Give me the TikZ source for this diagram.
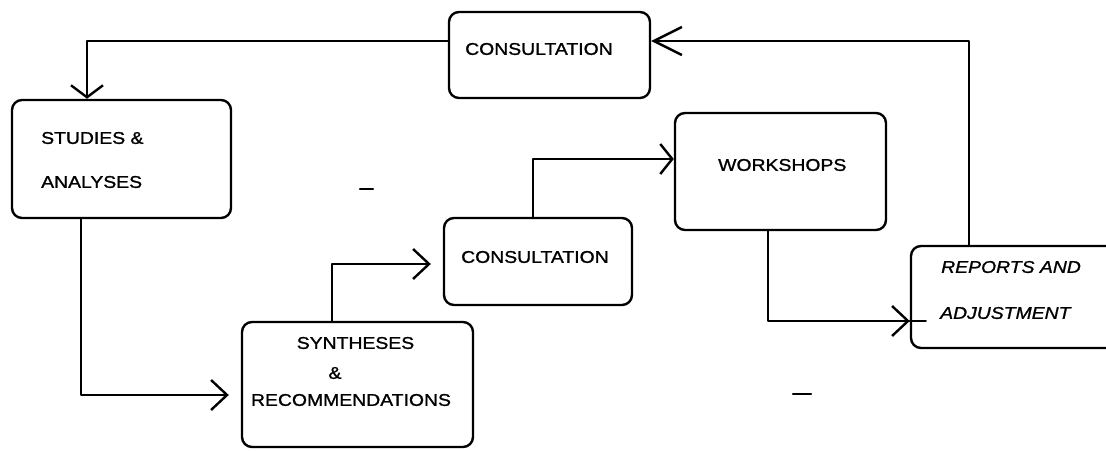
\documentclass[tikz,border=0pt]{standalone}
\usepackage{fontspec}
\setmainfont{Liberation Sans}[FakeStretch=1.14,FakeBold=1.2]
\usetikzlibrary{arrows.meta}
\begin{document}
\begin{tikzpicture}[x=1pt,y=-1pt,
  line width=2.4pt,line cap=round,line join=round,
  stage/.style={draw,rounded corners=10pt,inner sep=0pt},
  lbl/.style={inner sep=0pt,font=\fontsize{17}{20}\selectfont},
  lblw/.style={lbl,anchor=west},
  flow/.style={-{Straight Barb[length=16pt,width=30pt]}},
  tick/.style={line width=2.4pt}]
\useasboundingbox (0,0) rectangle (1106,450);

% process stages
\node[stage,minimum width=201pt,minimum height=86pt]  (consTop) at (549.5,55)  {};
\node[stage,minimum width=219pt,minimum height=118pt] (studies) at (121.5,159) {};
\node[stage,minimum width=211pt,minimum height=117pt] (work)    at (780.5,171.5) {};
\node[stage,minimum width=188pt,minimum height=87pt]  (consMid) at (538,261.5) {};
\node[stage,minimum width=231pt,minimum height=125pt] (synth)   at (357.5,384.5) {};
\node[stage,minimum width=214pt,minimum height=102pt] (reports) at (1018,297) {};

% stage labels
\node[lblw] (tConsTop) at (464,49)  {CONSULTATION};
\node[lblw] (tStud1)   at (40,138)  {STUDIES \&};
\node[lblw] (tStud2)   at (40,182)  {ANALYSES};
\node[lblw] (tWork)    at (717,165) {WORKSHOPS};
\node[lblw] (tConsMid) at (460,257) {CONSULTATION};
\node[lbl]  (tSyn1)    at (355.5,343) {SYNTHESES};
\node[lbl]  (tSyn2)    at (335,373)   {\&};
\node[lbl]  (tSyn3)    at (351,400)   {RECOMMENDATIONS};
\node[lblw,font=\fontsize{17}{20}\selectfont\itshape] (tRep1) at (940,267) {REPORTS AND};
\node[lblw,font=\fontsize{17}{20}\selectfont\itshape] (tRep2) at (939,313) {ADJUSTMENT};

% connectors
\draw[-{Straight Barb[length=12pt,width=32pt]}]
  ([yshift=14pt]consTop.west) -| ([xshift=-34.5pt]studies.north);
\draw[-{Straight Barb[length=28pt,width=28pt]}]
  ([xshift=-49pt]reports.north) |- ([yshift=14pt]consTop.east);
\draw[flow,shorten >=12pt]
  ([xshift=-40.5pt]studies.south) |- ([yshift=-10.5pt]synth.west);
\draw[flow,shorten >=12pt]
  ([xshift=-25.5pt]synth.north) |- ([yshift=-2.5pt]consMid.west);
\draw[-{Straight Barb[length=12pt,width=30pt]}]
  ([xshift=-5pt]consMid.north) |- ([yshift=12.5pt]work.west);
\draw[flow]
  ([xshift=-12.5pt]work.south) |- ([yshift=-24pt]reports.west);
\draw ([yshift=-24pt]reports.west) -- ++(16pt,0);

% loose strokes
\draw[tick] (360,189) -- (373,189);
\draw[tick] (793,394) -- (811,394);
\end{tikzpicture}
\end{document}
